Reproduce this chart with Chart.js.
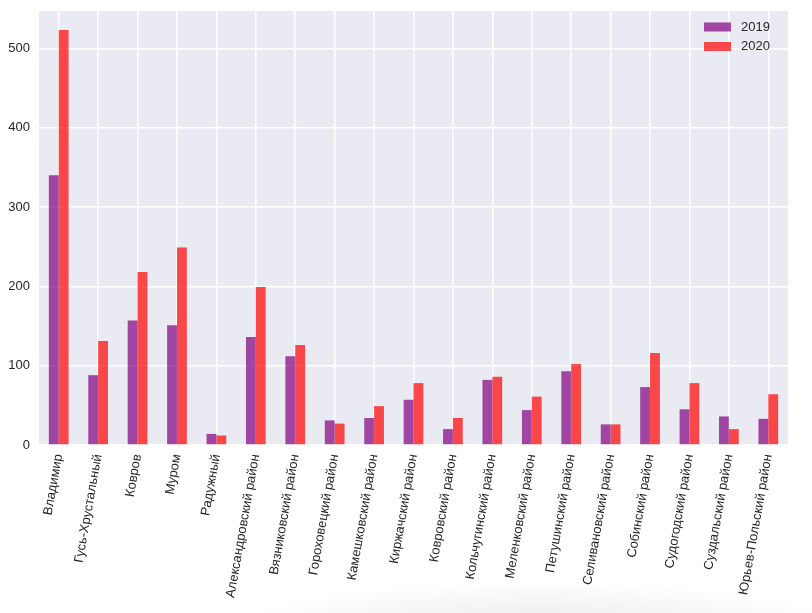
<html><head>
<meta charset="UTF-8">
<title>Владимирская область 2019–2020</title>
<script src="https://cdn.jsdelivr.net/npm/chart.js"></script>
<style>
    html, body {
        margin: 0;
        padding: 0;
        background: #ffffff;
        overflow: hidden;
    }
    #wrap {
        width: 812px;
        height: 613px;
        position: relative;
        /* faint shadow along the bottom edge, as in the screenshot */
        background: radial-gradient(ellipse 330px 60px at 540px 640px, rgba(0,0,0,0.10), rgba(0,0,0,0) 100%);
    }
</style>
</head>
<body>
<div id="wrap">
    <canvas id="chart" width="812" height="613"></canvas>
</div>
<script>
    const districts = ['Владимир', 'Гусь-Хрустальный', 'Ковров', 'Муром', 'Радужный',
        'Александровский район', 'Вязниковский район', 'Гороховецкий район', 'Камешковский район',
        'Киржачский район', 'Ковровский район', 'Кольчугинский район', 'Меленковский район',
        'Петушинский район', 'Селивановский район', 'Собинский район', 'Судогодский район',
        'Суздальский район', 'Юрьев-Польский район'];
    const values2019 = [340, 88, 157, 151, 14, 136, 112, 31, 34, 57, 20, 82, 44, 93, 26, 73, 45, 36, 33];
    const values2020 = [523, 131, 218, 249, 12, 199, 126, 27, 49, 78, 34, 86, 61, 102, 26, 116, 78, 20, 64];
    const seriesNames = ['2019', '2020'];
    const yTicks = [0, 100, 200, 300, 400, 500];

    const FONT = "'Liberation Sans', Arial, sans-serif";
    const TEXT = '#262626';

    // seaborn-like grey panel behind the plot
    const panelBg = {
        id: 'panelBg',
        beforeDraw(chart) {
            const a = chart.chartArea;
            const c = chart.ctx;
            c.save();
            c.fillStyle = '#EAEAF2';
            c.fillRect(a.left, a.top, a.right - a.left, a.bottom - a.top);
            c.restore();
        }
    };

    // legend in the upper right corner, stacked like matplotlib
    const cornerLegend = {
        id: 'cornerLegend',
        afterDraw(chart) {
            const c = chart.ctx;
            const a = chart.chartArea;
            c.save();
            c.font = '13px ' + FONT;
            c.textBaseline = 'middle';
            chart.data.datasets.forEach((ds, i) => {
                const y = a.top + 16 + i * 19.5;
                c.fillStyle = ds.backgroundColor;
                c.fillRect(a.right - 84, y - 4.5, 27, 9);
                c.fillStyle = TEXT;
                c.fillText(ds.label, a.right - 47, y);
            });
            c.restore();
        }
    };

    new Chart(document.getElementById('chart'), {
        type: 'bar',
        data: {
            labels: districts,
            datasets: [
                {
                    label: seriesNames[0],
                    data: values2019,
                    backgroundColor: 'rgba(128, 0, 128, 0.7)',
                    categoryPercentage: 0.5,
                    barPercentage: 1.0
                },
                {
                    label: seriesNames[1],
                    data: values2020,
                    backgroundColor: 'rgba(255, 0, 0, 0.7)',
                    categoryPercentage: 0.5,
                    barPercentage: 1.0
                }
            ]
        },
        options: {
            responsive: false,
            animation: false,
            layout: {
                padding: { top: 11, right: 24, left: 0, bottom: 0 }
            },
            plugins: {
                legend: { display: false },
                tooltip: { enabled: false }
            },
            scales: {
                x: {
                    offset: true,
                    grid: {
                        offset: false,
                        color: '#ffffff',
                        lineWidth: 1.5,
                        drawTicks: false
                    },
                    border: { display: false },
                    ticks: {
                        minRotation: 80,
                        maxRotation: 80,
                        autoSkip: false,
                        padding: 8,
                        color: TEXT,
                        font: { family: FONT, size: 13 }
                    },
                    afterFit(scale) {
                        scale.height = 168;
                        scale.paddingLeft = 0;
                        scale.paddingRight = 0;
                    }
                },
                y: {
                    min: 0,
                    max: 547,
                    afterBuildTicks(scale) {
                        scale.ticks = yTicks.map(v => ({ value: v }));
                    },
                    grid: {
                        color: '#ffffff',
                        lineWidth: 1.5,
                        drawTicks: false
                    },
                    border: { display: false },
                    ticks: {
                        padding: 9,
                        color: TEXT,
                        font: { family: FONT, size: 13 }
                    },
                    afterFit(scale) {
                        scale.width = 39;
                        scale.paddingTop = 0;
                        scale.paddingBottom = 0;
                    }
                }
            }
        },
        plugins: [panelBg, cornerLegend]
    });
</script>
</body>
</html>
